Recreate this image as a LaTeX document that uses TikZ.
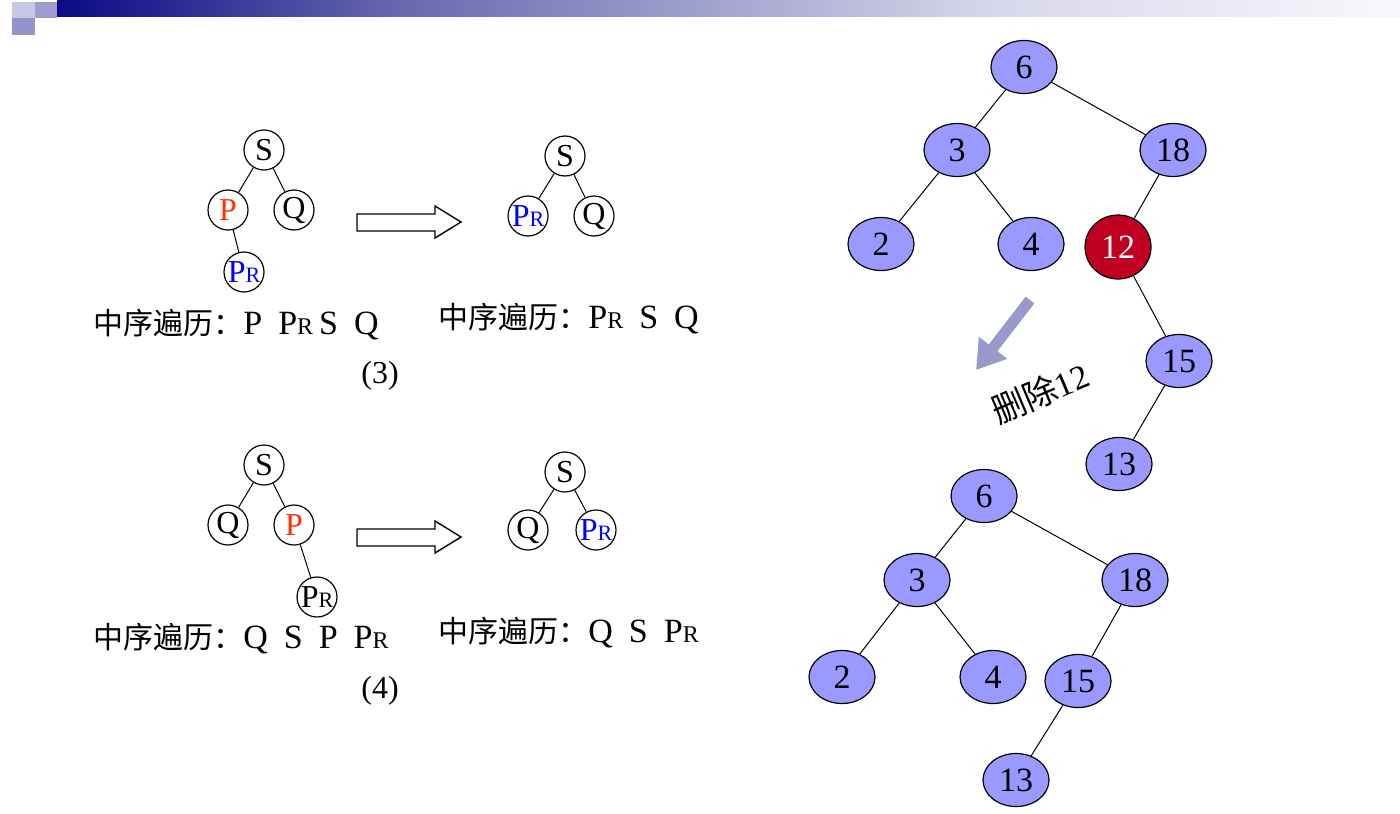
\documentclass[tikz,border=0pt]{standalone}
\usepackage{fontspec}
\setmainfont{Liberation Serif}
\newfontfamily\cjk{Noto Sans CJK SC}
\usetikzlibrary{shapes.geometric,arrows.meta}
\definecolor{navyb}{HTML}{0A0A84}
\definecolor{midb}{HTML}{6868B0}
\definecolor{lightb}{HTML}{D8D8EC}
\definecolor{whiteb}{HTML}{F8F8FC}
\definecolor{sqa}{HTML}{C8C8E6}
\definecolor{sqb}{HTML}{9C9CD0}
\definecolor{sqc}{HTML}{9494CC}
\definecolor{nodefill}{HTML}{9999FF}
\definecolor{delred}{HTML}{C00020}
\definecolor{arrowlav}{HTML}{9999CC}
\definecolor{pred}{HTML}{FF3300}
\definecolor{prblue}{HTML}{0000FF}
\newcommand\Rsmall{{\fontsize{11pt}{12pt}\selectfont R}}
\newcommand\Rtext{{\fontsize{12pt}{13pt}\selectfont R}}
\newcommand\PRc{P\Rsmall}
\newcommand\PRt{P\Rtext}
\tikzset{
  lnode/.style={circle,draw,line width=0.6pt,minimum size=20pt,inner sep=0pt,font=\fontsize{16pt}{17pt}\selectfont},
  bnode/.style={ellipse,draw,line width=0.6pt,fill=nodefill,minimum width=33pt,minimum height=26.5pt,inner sep=0pt,font=\fontsize{17pt}{18pt}\selectfont},
  rnode/.style={bnode,fill=delred,text=white,minimum width=33pt,minimum height=32pt},
  edge/.style={line width=0.5pt},
  hollow/.style={draw,line width=0.7pt,fill=white},
  trav/.style={anchor=base west,inner sep=0pt,font=\fontsize{17pt}{18pt}\selectfont},
  caption/.style={anchor=base,inner sep=0pt,font=\fontsize{16pt}{17pt}\selectfont}
}
\newcommand\cjklabel{{\cjk\fontsize{15pt}{16pt}\selectfont 中序遍历：}}
\begin{document}
\begin{tikzpicture}[x=0.5pt,y=-0.5pt]
\useasboundingbox (0,0) rectangle (1400,813);
% header
\shade[left color=navyb,right color=midb] (57,0) rectangle (400,17);
\shade[left color=midb,right color=lightb] (400,0) rectangle (1000,17);
\shade[left color=lightb,right color=whiteb] (1000,0) rectangle (1400,17);
\fill[sqa] (12,2) rectangle (35,18);
\fill[sqb] (35,2) rectangle (57,18);
\fill[sqc] (12,18) rectangle (35,35);

% ---------- case (3)
\node[lnode] (s3) at (264,150) {S};
\node[lnode,text=pred] (p3) at (228,210) {P};
\node[lnode] (q3) at (294,210) {Q};
\node[lnode,text=prblue] (pr3) at (244,272) {\PRc};
\draw[edge] (s3) -- (p3);
\draw[edge] (s3) -- (q3);
\draw[edge] (p3) -- (pr3);
\draw[hollow] (357,214) -- (435,214) -- (435,206) -- (461,222) -- (435,238) -- (435,231) -- (357,231) -- cycle;
\node[lnode] (s3b) at (565,156) {S};
\node[lnode,text=prblue] (pr3b) at (528,216) {\PRc};
\node[lnode] (q3b) at (594,216) {Q};
\draw[edge] (s3b) -- (pr3b);
\draw[edge] (s3b) -- (q3b);
\node[trav] (t3a) at (93,334) {\cjklabel P\hspace{8pt}\PRt\hspace{3pt}S\hspace{8pt}Q};
\node[trav] (t3b) at (438,328) {\cjklabel\PRt\hspace{8pt}S\hspace{8pt}Q};
\node[caption] (c3) at (380,383) {(3)};

% ---------- case (4)
\node[lnode] (s4) at (264,465) {S};
\node[lnode] (q4) at (228,525) {Q};
\node[lnode,text=pred] (p4) at (294,525) {P};
\node[lnode] (pr4) at (317,597) {\PRc};
\draw[edge] (s4) -- (q4);
\draw[edge] (s4) -- (p4);
\draw[edge] (p4) -- (pr4);
\draw[hollow] (357,529) -- (435,529) -- (435,521) -- (461,537) -- (435,553) -- (435,546) -- (357,546) -- cycle;
\node[lnode] (s4b) at (565,472) {S};
\node[lnode] (q4b) at (528,530) {Q};
\node[lnode,text=prblue] (pr4b) at (596,530) {\PRc};
\draw[edge] (s4b) -- (q4b);
\draw[edge] (s4b) -- (pr4b);
\node[trav] (t4a) at (93,648) {\cjklabel Q\hspace{8pt}S\hspace{8pt}P\hspace{8pt}\PRt};
\node[trav] (t4b) at (438,642) {\cjklabel Q\hspace{8pt}S\hspace{8pt}\PRt};
\node[caption] (c4) at (380,698) {(4)};

% ---------- tree before deletion
\node[bnode] (a6) at (1024,67) {6};
\node[bnode] (a3) at (957,150) {3};
\node[bnode] (a18) at (1173,150) {18};
\node[bnode] (a2) at (881,244) {2};
\node[bnode] (a4) at (1031,244) {4};
\node[rnode] (a12) at (1118,247) {12};
\node[bnode] (a15) at (1179,361) {15};
\node[bnode] (a13) at (1119,464) {13};
\draw[edge] (a6) -- (a3);
\draw[edge] (a6) -- (a18);
\draw[edge] (a3) -- (a2);
\draw[edge] (a3) -- (a4);
\draw[edge] (a18) -- (a12);
\draw[edge] (a12) -- (a15);
\draw[edge] (a15) -- (a13);

% arrow + label
\coordinate (arrS) at (1030,300);
\coordinate (arrE) at (976,370);
\draw[arrowlav,line width=5.5pt,-{Triangle[length=14pt,width=17pt]}] (arrS) -- (arrE);
\node[rotate=23,inner sep=0pt,font=\fontsize{17pt}{18pt}\selectfont] (del) at (1040,393) {{\cjk 删除}12};

% ---------- tree after deletion
\node[bnode] (b6) at (984,496) {6};
\node[bnode] (b3) at (917,580) {3};
\node[bnode] (b18) at (1135,580) {18};
\node[bnode] (b2) at (842,677) {2};
\node[bnode] (b4) at (993,677) {4};
\node[bnode] (b15) at (1078,681) {15};
\node[bnode] (b13) at (1016,780) {13};
\draw[edge] (b6) -- (b3);
\draw[edge] (b6) -- (b18);
\draw[edge] (b3) -- (b2);
\draw[edge] (b3) -- (b4);
\draw[edge] (b18) -- (b15);
\draw[edge] (b15) -- (b13);
\end{tikzpicture}
\end{document}
